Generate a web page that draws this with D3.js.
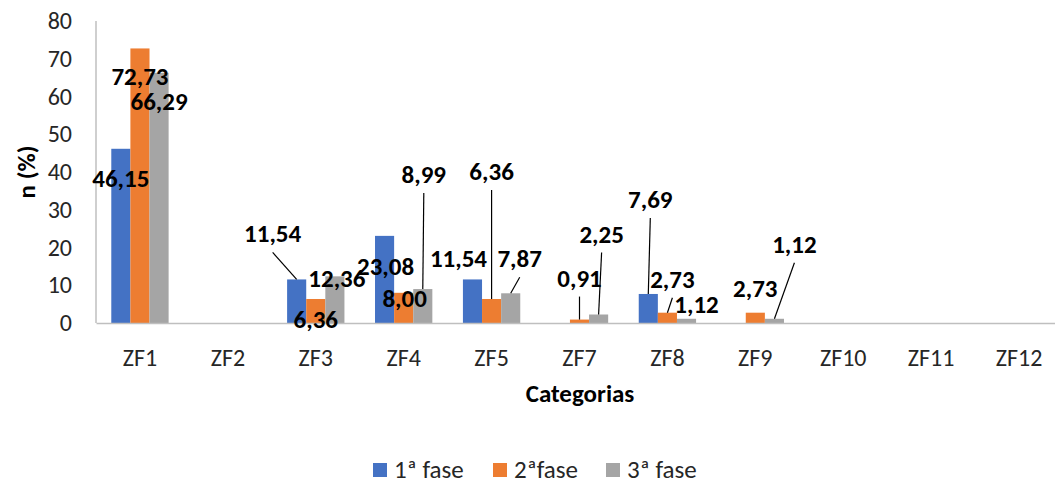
<!DOCTYPE html>
<html>
<head>
<meta charset="utf-8">
<script src="https://cdn.jsdelivr.net/npm/d3@7"></script>
<style>
  html, body { margin: 0; padding: 0; background: #fff; }
  svg { display: block; font-family: Carlito, Lato, "Open Sans", sans-serif; }
</style>
</head>
<body>
<svg id="chart" width="1055" height="483"></svg>
<script>
// ---- data ----
const categories = ["ZF1", "ZF2", "ZF3", "ZF4", "ZF5", "ZF7", "ZF8", "ZF9", "ZF10", "ZF11", "ZF12"];
const seriesNames = ["1ª fase", "2ªfase", "3ª fase"];
const fase1 = [46.15, 0, 11.54, 23.08, 11.54, 0, 7.69, 0, 0, 0, 0];
const fase2 = [72.73, 0, 6.36, 8.00, 6.36, 0.91, 2.73, 2.73, 0, 0, 0];
const fase3 = [66.29, 0, 12.36, 8.99, 7.87, 2.25, 1.12, 1.12, 0, 0, 0];
const yTicks = [0, 10, 20, 30, 40, 50, 60, 70, 80];

// ---- label placement (layout only): [seriesIndex, category, dx, dy, leader] ----
const labelPlacement = [
  [0, "ZF1", 0, 38, false], [1, "ZF1", 0, 37, false], [2, "ZF1", 0, 37, false],
  [0, "ZF3", -24, -37, true], [1, "ZF3", 0, 29, false], [2, "ZF3", 2, 11, false],
  [0, "ZF4", 1, 39, false], [1, "ZF4", 1, 14, false], [2, "ZF4", 1, -106, true],
  [0, "ZF5", -14, -12, false], [1, "ZF5", 0, -119, true], [2, "ZF5", 9, -26, true],
  [1, "ZF7", 0, -33, true], [2, "ZF7", 3, -72, true],
  [0, "ZF8", 2, -86, true], [1, "ZF8", 5, -25, true], [2, "ZF8", 10, -6, false],
  [1, "ZF9", 0, -16, false], [2, "ZF9", 20, -66, true]
];

const colors = ["#4472c4", "#ed7d31", "#a5a5a5"];
const seriesValues = [fase1, fase2, fase3];

const svg = d3.select("#chart");
const x0 = d3.scaleBand().domain(categories).range([96, 1063]).padding(0);
const x1 = d3.scaleBand().domain(d3.range(3)).range([0, x0.bandwidth()])
  .paddingInner(0).paddingOuter(0.8);
const y = d3.scaleLinear().domain([0, 80]).range([323, 21]);

// axes
const yAxis = svg.append("g").attr("transform", "translate(96,0)")
  .call(d3.axisLeft(y).tickValues(yTicks).tickSize(0).tickPadding(24));
yAxis.select(".domain").attr("stroke", "#bfbfbf").attr("stroke-width", 1.5)
  .attr("d", `M0,${y(80)}V${y(0)}`);
yAxis.selectAll("text").attr("font-size", 24).attr("fill", "#262626")
  .attr("font-family", "Carlito, Lato, sans-serif");

// bars
categories.forEach((c, i) => {
  seriesValues.forEach((vals, s) => {
    const v = vals[i];
    if (v <= 0) return;
    svg.append("rect")
      .attr("x", x0(c) + x1(s))
      .attr("y", y(v))
      .attr("width", x1.bandwidth())
      .attr("height", y(0) - y(v))
      .attr("fill", colors[s]);
  });
});

const xAxis = svg.append("g").attr("transform", `translate(0,${y(0)})`)
  .call(d3.axisBottom(x0).tickSize(0).tickPadding(26));
xAxis.select(".domain").attr("stroke", "#bfbfbf").attr("stroke-width", 1.5);
xAxis.selectAll("text").attr("font-size", 24).attr("fill", "#262626")
  .attr("font-family", "Carlito, Lato, sans-serif");

// data labels
const fmt = v => v.toFixed(2).replace(".", ",");
labelPlacement.forEach(([s, c, dx, dy, leader]) => {
  const i = categories.indexOf(c);
  const v = seriesValues[s][i];
  const bx = x0(c) + x1(s) + x1.bandwidth() / 2;
  const by = y(v);
  const lx = bx + dx, ly = by + dy;
  if (leader) {
    svg.append("line")
      .attr("x1", lx).attr("y1", ly + 10)
      .attr("x2", bx).attr("y2", by)
      .attr("stroke", "#000").attr("stroke-width", 1.2);
  }
  svg.append("text")
    .attr("x", lx).attr("y", ly)
    .attr("text-anchor", "middle")
    .attr("font-size", 25).attr("font-weight", "bold").attr("fill", "#000")
    .text(fmt(v));
});

// axis titles
svg.append("text")
  .attr("transform", `translate(35,172) rotate(-90)`)
  .attr("text-anchor", "middle")
  .attr("font-size", 25).attr("font-weight", "bold").attr("fill", "#000")
  .text("n (%)");
svg.append("text")
  .attr("x", 580).attr("y", 402)
  .attr("text-anchor", "middle")
  .attr("font-size", 25).attr("font-weight", "bold").attr("fill", "#000")
  .text("Categorias");

// legend
const legendX = [373, 493, 606];
seriesNames.forEach((n, s) => {
  const g = svg.append("g").attr("transform", `translate(${legendX[s]},463)`);
  g.append("rect").attr("width", 14).attr("height", 14).attr("fill", colors[s]);
  g.append("text").attr("x", 21).attr("y", 14.5)
    .attr("font-size", 25).attr("fill", "#262626").text(n);
});
</script>
</body>
</html>
